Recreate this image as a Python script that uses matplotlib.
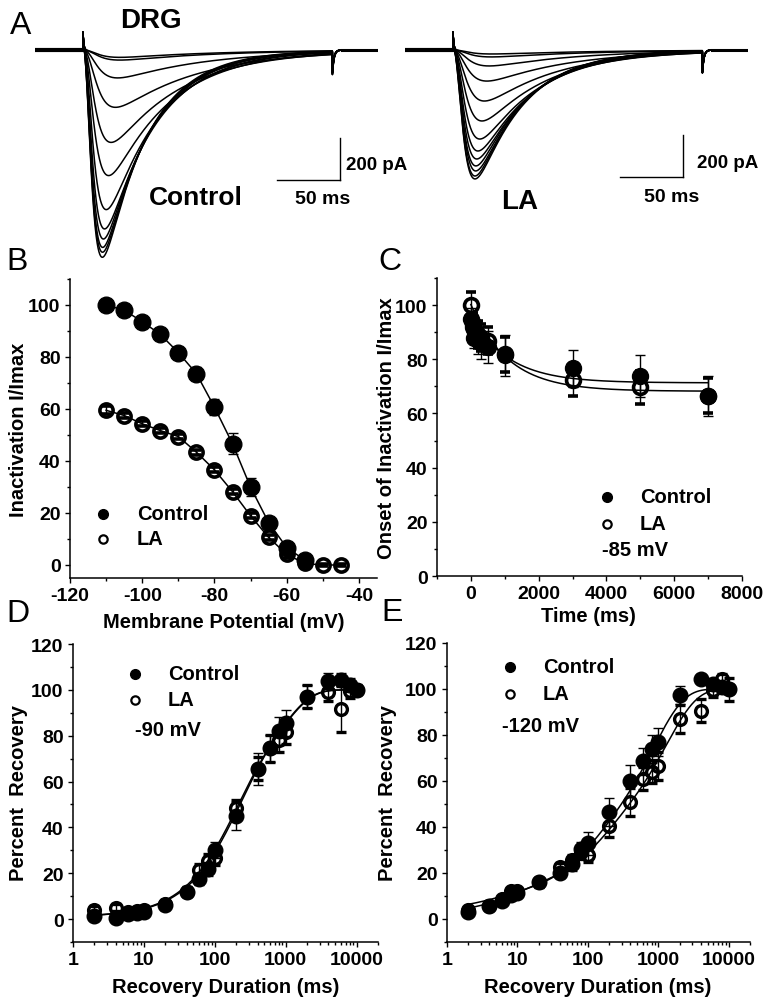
import numpy as np
import matplotlib
matplotlib.use('Agg')
import matplotlib.pyplot as plt
from matplotlib.lines import Line2D
from matplotlib.ticker import MultipleLocator, LogLocator, NullFormatter

plt.rcParams['font.family'] = ['Liberation Sans', 'DejaVu Sans']
plt.rcParams['font.weight'] = 'bold'
plt.rcParams['axes.labelweight'] = 'bold'
plt.rcParams['axes.linewidth'] = 1.1

# ---------------- data ----------------
# Panel A: current traces (peak amplitude pA, activation / inactivation time constants ms)
pulse_on_ms = 38
pulse_off_ms = 236
trace_len_ms = 272
ctrl_peak_pA = [35, 48, 133, 273, 440, 598, 760, 852, 900, 940, 963, 987]
ctrl_tau_m = [9, 9, 8.5, 8, 7, 6.5, 6, 5.5, 5.2, 5, 5, 5]
ctrl_tau_h = [75, 75, 70, 65, 55, 48, 42, 40, 38, 37, 36, 35]
la_peak_pA = [19, 33, 76, 148, 243, 338, 424, 481, 519, 552, 576, 600, 614]
la_tau_m = [9.5, 9.5, 9, 8.5, 8, 7.5, 7, 6.5, 6.2, 6, 6, 5.8, 5.8]
la_tau_h = [80, 75, 70, 65, 58, 52, 47, 44, 42, 40, 39, 38, 38]
artifact_on_pA = 90
artifact_off_pA = -100

# Panel B: steady-state inactivation
B_voltage_ctrl = [-110, -105, -100, -95, -90, -85, -80, -75, -70, -65, -60, -55]
B_ctrl = [100, 98, 93.6, 88.7, 81.7, 73.6, 60.7, 46.6, 29.9, 16.3, 6.7, 1.9]
B_ctrl_err = [0.5, 1, 1.5, 1.5, 2, 2.5, 3, 4, 3.5, 2, 1.5, 1]
B_voltage_la = [-110, -105, -100, -95, -90, -85, -80, -75, -70, -65, -60, -55, -50, -45]
B_la = [59.5, 57.5, 54.3, 51.7, 49.4, 43.4, 36.6, 28.2, 18.9, 10.6, 4.1, 0.6, 0, 0]
B_la_err = [1.5, 1, 1, 1, 1, 1, 1, 1, 1, 1, 1.5, 1, 0.5, 0.5]

# Panel C: onset of inactivation at -85 mV
C_time = [0, 50, 100, 200, 300, 500, 1000, 3000, 5000, 7000]
C_ctrl = [95, 92, 88, 87, 86, 84.5, 81.5, 76.6, 73.9, 66.5]
C_ctrl_err = [4, 4, 4, 5, 6, 6, 7.5, 7, 7.8, 7.5]
C_la = [100, 93, 91, 89, 88, 86.8, 81.8, 72.4, 69.6, 66.5]
C_la_err = [5, 4, 4, 5, 5, 5, 6.5, 6, 6, 6.5]
C_fit_ctrl = (71.3, 25, 1100)   # y0, A, tau
C_fit_la = (68.2, 32, 1100)

# Panel D: recovery at -90 mV
D_time = [2, 4, 6, 8, 10, 20, 40, 60, 80, 100, 200, 400, 600, 800, 1000, 2000, 4000, 6000, 8000, 10000]
D_ctrl = [1.5, 0.5, 2, 2.5, 3, 6, 12, 17.5, 22, 30, 45, 65.5, 74.5, 82, 85.5, 97, 104, 104.5, 102, 100]
D_ctrl_err = [1.5, 1.5, 1.5, 1.5, 1.5, 2, 2, 2.5, 3, 3.5, 6, 7, 6, 6, 5.5, 5, 3.5, 3, 3, 2]
D_la = [4, 5, 3, 3.5, 4, 6.5, 12, 21.5, 25.5, 26.5, 48.5, 65.5, 74.5, 78, 81.5, 97, 99, 91.5, 99.5, 100]
D_la_err = [1.5, 1.5, 1.5, 1.5, 1.5, 2, 2, 2.5, 3, 3, 3.5, 5, 6, 5, 5, 5, 4, 10, 3, 2]
D_fit_ctrl = [(52, 160), (47, 860)]   # (amplitude, tau) components
D_fit_la = [(51, 170), (48, 830)]

# Panel E: recovery at -120 mV
E_time = [2, 4, 6, 8, 10, 20, 40, 60, 80, 100, 200, 400, 600, 800, 1000, 2000, 4000, 6000, 8000, 10000]
E_ctrl = [3, 5.5, 8, 10.5, 11.5, 16, 20, 24, 30.5, 33, 46.5, 60, 68.5, 74, 77, 97.5, 104.5, 102, 101, 100]
E_ctrl_err = [1, 1, 1, 1.5, 1.5, 2, 2, 3, 3, 5, 6, 7, 6, 6, 6, 4, 2, 2, 2, 2]
E_la = [4, 5.5, 8.5, 12, 12, 16, 22.5, 25.5, 29, 28, 40.5, 51, 61, 64, 66.5, 87, 90.5, 99.5, 104.5, 100]
E_la_err = [1, 1, 1, 1.5, 1.5, 2, 2, 2.5, 3, 3, 5, 6, 5, 5, 6, 6, 5, 3, 2, 5]
E_fit_ctrl = [(6, 4), (20.6, 90), (70, 850)]
E_fit_la = [(10, 8), (21.9, 128), (66, 1300)]

B_xticks = [-120, -100, -80, -60, -40]
C_xticks = [0, 2000, 4000, 6000, 8000]
lin_yticks = [0, 20, 40, 60, 80, 100]
log_xticks = [1, 10, 100, 1000, 10000]
rec_yticks = [0, 20, 40, 60, 80, 100, 120]

# ---------------- figure ----------------
W, H = 771, 1004
fig = plt.figure(figsize=(W / 100, H / 100), dpi=100)


def fx(px):
    return px / W


def fy(py):
    return 1 - py / H


def ax_px(l, t, r, b):
    return fig.add_axes([l / W, 1 - b / H, (r - l) / W, (b - t) / H])


def ftext(x, y, s, size=14.5, ha='left', va='center', weight='bold'):
    fig.text(fx(x), fy(y), s, fontsize=size, ha=ha, va=va, fontweight=weight)


# ---------- Panel A ----------
pA_per_px = 200 / 42.0
ms_per_px = 50 / 63.0
baseline_px = 51
t = np.linspace(0, trace_len_ms, 6000)


def trace(amp, tm, th):
    s = np.clip(t - pulse_on_ms, 0, None)
    w = (1 - np.exp(-s / tm)) ** 3 * np.exp(-s / th)
    w = w / w.max()
    off = t >= pulse_off_ms
    w[off] *= np.exp(-(t[off] - pulse_off_ms) / 2.0)
    art = np.where(t >= pulse_on_ms, artifact_on_pA * np.exp(-(t - pulse_on_ms) / 0.7), 0)
    art += np.where(t >= pulse_off_ms, artifact_off_pA * np.exp(-(t - pulse_off_ms) / 1.2), 0)
    return -amp * w + art


for (left_px, amps, tms, ths, corner) in [
        (35, ctrl_peak_pA, ctrl_tau_m, ctrl_tau_h, (242, -619)),
        (405, la_peak_pA, la_tau_m, la_tau_h, (220.6, -605))]:
    right_px = left_px + trace_len_ms / ms_per_px
    axA = ax_px(left_px, 0, right_px, 270)
    axA.set_xlim(0, trace_len_ms)
    axA.set_ylim(-(270 - baseline_px) * pA_per_px, baseline_px * pA_per_px)
    axA.axis('off')
    for a, tm, th in zip(amps, tms, ths):
        axA.plot(t, trace(a, tm, th), color='black', lw=1.1)
    base = t < pulse_on_ms
    axA.plot(t[base], np.zeros(base.sum()), color='black', lw=3.0)
    tail = t > pulse_off_ms + 8
    axA.plot(t[tail], np.zeros(tail.sum()), color='black', lw=2.2)
    cx, cy = corner
    axA.plot([cx, cx], [cy, cy + 200], color='black', lw=1.0, clip_on=False)
    axA.plot([cx - 50, cx], [cy, cy], color='black', lw=1.0, clip_on=False)

ftext(21, 26, 'A', size=23, ha='center', weight='normal')
ftext(151, 21, 'DRG', size=20, ha='center')
ftext(196, 198, 'Control', size=19, ha='center')
ftext(520, 202, 'LA', size=20, ha='center')
ftext(346, 166, '200 pA', size=13.5)
ftext(697, 163, '200 pA', size=13.5)
ftext(323, 200, '50 ms', size=14, ha='center')
ftext(672, 197, '50 ms', size=14, ha='center')


# ---------- helper for B-E ----------
def style(ax):
    for sp in ['top', 'right']:
        ax.spines[sp].set_visible(False)
    ax.tick_params(which='major', direction='out', length=3.8, width=1.0, labelsize=14, pad=3)
    ax.tick_params(which='minor', direction='out', length=2.2, width=1.0)


def set_ticks(ax, xt, yt, xlabels=None):
    ax.set_xticks(xt, labels=xlabels if xlabels else [str(v) for v in xt], fontweight='bold', fontsize=14)
    ax.set_yticks(yt, labels=[str(v) for v in yt], fontweight='bold', fontsize=14)


def draw_series(ax, x, y, err, filled, ms, mew, connect=False):
    ax.errorbar(x, y, yerr=err, fmt='o', color='black', ms=ms, mew=(1 if filled else mew),
                mfc=('black' if filled else 'none'), ecolor='black', elinewidth=1.0,
                capsize=3.6, capthick=1.2, zorder=(3 if filled else 4),
                ls='-' if connect else 'none', lw=1.1)


def legend_px(xm, y1, y2, xt, extra=None):
    fig.add_artist(Line2D([fx(xm)], [fy(y1)], marker='o', ms=7, color='black', mfc='black',
                          transform=fig.transFigure))
    fig.add_artist(Line2D([fx(xm)], [fy(y2)], marker='o', ms=6, mew=1.6, color='black', mfc='none',
                          transform=fig.transFigure))
    ftext(xt, y1, 'Control')
    ftext(xt, y2, 'LA')
    if extra is not None:
        ftext(extra[0], extra[1], extra[2])


# ---------- Panel B ----------
axB = ax_px(70, 280, 377, 579)
style(axB)
draw_series(axB, B_voltage_ctrl, B_ctrl, B_ctrl_err, True, 12, 1, connect=True)
draw_series(axB, B_voltage_la, B_la, B_la_err, False, 9.5, 2.6, connect=True)
axB.set_xlim(-120, -35)
axB.set_ylim(-5, 110)
set_ticks(axB, B_xticks, lin_yticks)
axB.xaxis.set_minor_locator(MultipleLocator(10))
axB.yaxis.set_minor_locator(MultipleLocator(10))
axB.set_xlabel('Membrane Potential (mV)', fontsize=14.5)
axB.set_ylabel('Inactivation I/Imax', fontsize=14.5)
axB.xaxis.set_label_coords(fx(224), fy(613), transform=fig.transFigure)
axB.yaxis.set_label_coords(fx(28), fy(430), transform=fig.transFigure)
legend_px(103, 515, 540, 137)
ftext(17, 262, 'B', size=23, ha='center', weight='normal')

# ---------- Panel C ----------
axC = ax_px(437, 279, 742, 577)
style(axC)
tt = np.linspace(0, 7000, 400)
for p in [C_fit_ctrl, C_fit_la]:
    axC.plot(tt, p[0] + p[1] * np.exp(-tt / p[2]), color='black', lw=1.1, zorder=2)
draw_series(axC, C_time, C_ctrl, C_ctrl_err, True, 11.5, 1)
draw_series(axC, C_time, C_la, C_la_err, False, 10, 2.6)
axC.set_xlim(-1000, 8000)
axC.set_ylim(0, 110)
set_ticks(axC, C_xticks, lin_yticks)
axC.xaxis.set_minor_locator(MultipleLocator(1000))
axC.yaxis.set_minor_locator(MultipleLocator(10))
axC.set_xlabel('Time (ms)', fontsize=14.5)
axC.set_ylabel('Onset of Inactivation I/Imax', fontsize=14.5)
axC.xaxis.set_label_coords(fx(588), fy(607), transform=fig.transFigure)
axC.yaxis.set_label_coords(fx(396), fy(428), transform=fig.transFigure)
legend_px(607, 498, 525, 640, extra=(602, 551, '-85 mV'))
ftext(390, 262, 'C', size=23, ha='center', weight='normal')


# ---------- Panels D, E ----------
def log_axes(ax):
    ax.set_xscale('log')
    ax.set_xlim(1, 20000)
    ax.set_ylim(-10, 120)
    set_ticks(ax, log_xticks, rec_yticks)
    ax.xaxis.set_minor_locator(LogLocator(base=10, subs=np.arange(2, 10)))
    ax.xaxis.set_minor_formatter(NullFormatter())
    ax.yaxis.set_minor_locator(MultipleLocator(10))


tl = np.logspace(np.log10(2), np.log10(10000), 400)

axD = ax_px(73, 645, 378, 943)
style(axD)
log_axes(axD)
for comps in [D_fit_ctrl, D_fit_la]:
    yv = 100 - sum(a * np.exp(-tl / tau) for a, tau in comps)
    axD.plot(tl, yv, color='black', lw=1.1, zorder=2)
draw_series(axD, D_time, D_ctrl, D_ctrl_err, True, 10.5, 1)
draw_series(axD, D_time, D_la, D_la_err, False, 8.5, 2.4)
axD.set_xlabel('Recovery Duration (ms)', fontsize=14.5)
axD.set_ylabel('Percent  Recovery', fontsize=14.5)
axD.xaxis.set_label_coords(fx(226), fy(978), transform=fig.transFigure)
axD.yaxis.set_label_coords(fx(28), fy(793), transform=fig.transFigure)
legend_px(135, 675, 701, 168, extra=(135, 731, '-90 mV'))
ftext(18, 614, 'D', size=23, ha='center', weight='normal')

axE = ax_px(447, 644, 750, 943)
style(axE)
log_axes(axE)
for comps in [E_fit_ctrl, E_fit_la]:
    yv = 100 - sum(a * np.exp(-tl / tau) for a, tau in comps)
    axE.plot(tl, yv, color='black', lw=1.1, zorder=2)
draw_series(axE, E_time, E_ctrl, E_ctrl_err, True, 10.5, 1)
draw_series(axE, E_time, E_la, E_la_err, False, 8.5, 2.4)
axE.set_xlabel('Recovery Duration (ms)', fontsize=14.5)
axE.set_ylabel('Percent  Recovery', fontsize=14.5)
axE.xaxis.set_label_coords(fx(598), fy(978), transform=fig.transFigure)
axE.yaxis.set_label_coords(fx(397), fy(793), transform=fig.transFigure)
legend_px(510, 668, 695, 543, extra=(502, 727, '-120 mV'))
ftext(392, 613, 'E', size=23, ha='center', weight='normal')

fig.savefig('out.png', dpi=100, facecolor='white')
